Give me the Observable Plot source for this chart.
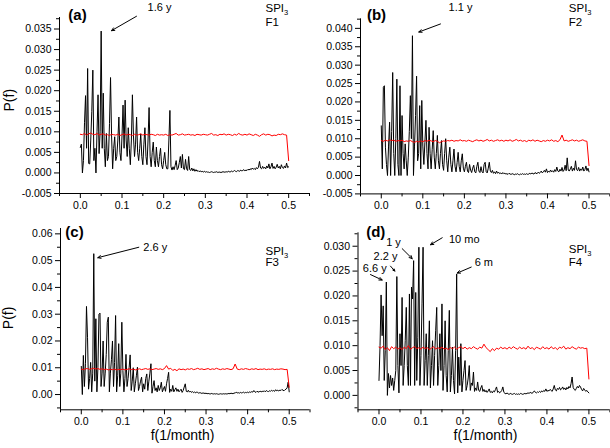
<!DOCTYPE html>
<html><head><meta charset="utf-8">
<script src="https://cdn.jsdelivr.net/npm/d3@7"></script>
<script src="https://cdn.jsdelivr.net/npm/@observablehq/plot@0.6"></script>
<style>
html,body{margin:0;padding:0;background:#fff;}
#chart{position:relative;width:610px;height:448px;overflow:hidden;background:#fff;}
#chart svg{position:absolute;}
</style></head><body><div id="chart"></div>
<script>
// frequency spacing (1/month) of the periodogram and of the red significance curve
const fStep = 0.0025;
const redStep = 0.005;

// ---------- Panel (a) F1 ----------
const powerA = [
0.0062,0.0070,0.0000,0.0030,0.0122,0.0188,0.0060,0.0254,0.0023,0.0022,0.0080,0.0150,0.0250,0.0030,0.0060,0.0000,0.0100,0.0190,0.0047,0.0100,
0.0345,0.0060,0.0194,0.0060,0.0015,0.0096,0.0030,0.0040,0.0120,0.0232,0.0090,0.0010,0.0060,0.0088,0.0030,0.0040,0.0080,0.0136,0.0050,0.0030,
0.0090,0.0165,0.0060,0.0177,0.0080,0.0040,0.0110,0.0060,0.0020,0.0080,0.0190,0.0090,0.0040,0.0070,0.0136,0.0050,0.0030,0.0060,0.0095,0.0040,
0.0020,0.0070,0.0110,0.0040,0.0020,0.0080,0.0159,0.0040,0.0015,0.0050,0.0075,0.0030,0.0015,0.0063,0.0030,0.0015,0.0040,0.0060,0.0020,0.0010,
0.0030,0.0050,0.0020,0.0010,0.0010,0.0080,0.0152,0.0015,0.0007,0.0015,0.0008,0.0018,0.0030,0.0008,0.0012,0.0025,0.0040,0.0012,0.0045,0.0010,
0.0008,0.0033,0.0010,0.0006,0.0040,0.0008,0.0006,0.0012,0.0005,0.0010,0.0004,0.0008,0.0004,0.0006,0.0003,0.0005,0.0003,0.0004,0.0002,0.0004,
0.0002,0.0003,0.0002,0.0002,0.0001,0.0002,0.0003,0.0002,0.0001,0.0002,0.0002,0.0003,0.0001,0.0002,0.0002,0.0001,0.0002,0.0003,0.0002,0.0002,
0.0003,0.0002,0.0004,0.0003,0.0002,0.0005,0.0003,0.0004,0.0006,0.0004,0.0003,0.0006,0.0005,0.0004,0.0007,0.0005,0.0006,0.0008,0.0005,0.0007,
0.0006,0.0009,0.0007,0.0010,0.0008,0.0012,0.0009,0.0011,0.0008,0.0013,0.0010,0.0014,0.0028,0.0012,0.0010,0.0016,0.0011,0.0014,0.0010,0.0017,
0.0012,0.0022,0.0010,0.0015,0.0024,0.0011,0.0016,0.0010,0.0014,0.0021,0.0012,0.0016,0.0010,0.0020,0.0013,0.0011,0.0017,0.0012,0.0024,0.0013,
0.0015];
const redA = [
0.0094,0.0093,0.0096,0.0092,0.0095,0.0097,0.0094,0.0093,0.0096,0.0092,0.0094,0.0095,0.0092,0.0093,0.0091,0.0094,0.0093,0.0092,0.0094,0.0091,
0.0093,0.0095,0.0092,0.0094,0.0093,0.0091,0.0094,0.0092,0.0093,0.0095,0.0092,0.0094,0.0093,0.0092,0.0094,0.0093,0.0091,0.0094,0.0092,0.0093,
0.0092,0.0094,0.0091,0.0093,0.0092,0.0094,0.0096,0.0092,0.0093,0.0095,0.0092,0.0093,0.0094,0.0092,0.0093,0.0091,0.0094,0.0093,0.0092,0.0094,
0.0093,0.0092,0.0094,0.0096,0.0092,0.0093,0.0091,0.0094,0.0093,0.0095,0.0092,0.0094,0.0093,0.0091,0.0094,0.0092,0.0096,0.0093,0.0092,0.0094,
0.0092,0.0095,0.0093,0.0091,0.0094,0.0092,0.0089,0.0093,0.0095,0.0092,0.0094,0.0093,0.0090,0.0092,0.0091,0.0094,0.0093,0.0095,0.0093,0.0092,
0.0030];
const yDomainA = [-0.005, 0.0378];
const yMajorA = [-0.005, 0, 0.005, 0.010, 0.015, 0.020, 0.025, 0.030, 0.035];
const yMinorA = [-0.0025, 0.0025, 0.0075, 0.0125, 0.0175, 0.0225, 0.0275, 0.0325, 0.0375];
const tagA = [{f: -0.0068, p: 0.0384, text: "(a)"}];
const periodTextA = [{f: 0.190, p: 0.0402, text: "1.6 y"}];
const periodArrowA = [{f1: 0.1348, p1: 0.0381, f2: 0.0748, p2: 0.0346}];
const indexA = [{f: 0.4444, p: 0.0400, text: "SPI", sub: "3"}];
const fieldA = [{f: 0.4444, p: 0.0367, text: "F1"}];

// ---------- Panel (b) F2 ----------
const powerB = [
0.0135,0.0018,0.0240,0.0244,0.0077,0.0030,0.0000,0.0080,0.0145,0.0000,0.0120,0.0280,0.0060,0.0000,0.0100,0.0262,0.0030,0.0000,0.0244,0.0000,
0.0163,0.0060,0.0018,0.0086,0.0040,0.0000,0.0050,0.0120,0.0217,0.0100,0.0380,0.0000,0.0080,0.0163,0.0270,0.0040,0.0060,0.0190,0.0018,0.0204,
0.0080,0.0030,0.0090,0.0150,0.0060,0.0018,0.0131,0.0060,0.0018,0.0070,0.0122,0.0050,0.0018,0.0060,0.0109,0.0040,0.0018,0.0060,0.0095,0.0030,
0.0014,0.0060,0.0100,0.0040,0.0010,0.0050,0.0077,0.0030,0.0010,0.0040,0.0072,0.0025,0.0010,0.0035,0.0063,0.0025,0.0010,0.0040,0.0059,0.0020,
0.0010,0.0025,0.0036,0.0012,0.0008,0.0030,0.0015,0.0008,0.0020,0.0028,0.0010,0.0007,0.0025,0.0036,0.0012,0.0008,0.0024,0.0010,0.0007,0.0030,
0.0036,0.0010,0.0007,0.0020,0.0036,0.0012,0.0008,0.0014,0.0006,0.0010,0.0005,0.0012,0.0006,0.0009,0.0005,0.0007,0.0004,0.0008,0.0005,0.0006,
0.0004,0.0005,0.0003,0.0006,0.0004,0.0003,0.0005,0.0004,0.0002,0.0004,0.0003,0.0005,0.0003,0.0002,0.0004,0.0003,0.0005,0.0003,0.0004,0.0003,
0.0005,0.0003,0.0004,0.0006,0.0004,0.0007,0.0005,0.0004,0.0008,0.0006,0.0005,0.0009,0.0006,0.0008,0.0012,0.0007,0.0010,0.0014,0.0009,0.0018,
0.0008,0.0012,0.0009,0.0015,0.0010,0.0013,0.0009,0.0016,0.0011,0.0023,0.0012,0.0010,0.0017,0.0012,0.0022,0.0011,0.0015,0.0028,0.0013,0.0048,
0.0015,0.0012,0.0018,0.0025,0.0012,0.0020,0.0014,0.0040,0.0016,0.0013,0.0022,0.0012,0.0018,0.0014,0.0023,0.0012,0.0016,0.0026,0.0013,0.0020,
0.0010];
const redB = [
0.0095,0.0093,0.0096,0.0094,0.0097,0.0095,0.0096,0.0093,0.0095,0.0094,0.0096,0.0092,0.0094,0.0093,0.0095,0.0092,0.0090,0.0093,0.0091,0.0094,
0.0092,0.0095,0.0093,0.0096,0.0094,0.0092,0.0095,0.0093,0.0089,0.0092,0.0094,0.0093,0.0095,0.0094,0.0096,0.0093,0.0095,0.0094,0.0097,0.0094,
0.0095,0.0093,0.0096,0.0094,0.0092,0.0095,0.0097,0.0094,0.0096,0.0093,0.0095,0.0098,0.0094,0.0096,0.0093,0.0095,0.0097,0.0094,0.0096,0.0093,
0.0096,0.0094,0.0097,0.0093,0.0095,0.0098,0.0094,0.0096,0.0093,0.0095,0.0092,0.0096,0.0094,0.0097,0.0093,0.0096,0.0094,0.0092,0.0095,0.0093,
0.0096,0.0094,0.0097,0.0093,0.0095,0.0092,0.0097,0.0110,0.0094,0.0096,0.0093,0.0095,0.0097,0.0094,0.0096,0.0093,0.0095,0.0097,0.0094,0.0093,
0.0027];
const yDomainB = [-0.005, 0.0426];
const yMajorB = [-0.005, 0, 0.005, 0.010, 0.015, 0.020, 0.025, 0.030, 0.035, 0.040];
const yMinorB = [-0.0025, 0.0025, 0.0075, 0.0125, 0.0175, 0.0225, 0.0275, 0.0325, 0.0375, 0.0425];
const tagB = [{f: -0.0115, p: 0.0436, text: "(b)"}];
const periodTextB = [{f: 0.1907, p: 0.0457, text: "1.1 y"}];
const periodArrowB = [{f1: 0.1425, p1: 0.0412, f2: 0.0903, p2: 0.0390}];
const indexB = [{f: 0.4513, p: 0.0454, text: "SPI", sub: "3"}];
const fieldB = [{f: 0.4513, p: 0.0417, text: "F2"}];

// ---------- Panel (c) F3 ----------
const powerC = [
0.0105,0.0000,0.0146,0.0030,0.0115,0.0329,0.0214,0.0020,0.0060,0.0120,0.0010,0.0080,0.0526,0.0050,0.0283,0.0010,0.0100,0.0300,0.0304,0.0030,
0.0080,0.0200,0.0030,0.0080,0.0150,0.0270,0.0289,0.0010,0.0080,0.0130,0.0200,0.0030,0.0120,0.0295,0.0010,0.0070,0.0190,0.0030,0.0080,0.0270,
0.0090,0.0010,0.0060,0.0150,0.0030,0.0060,0.0100,0.0148,0.0015,0.0050,0.0100,0.0010,0.0040,0.0070,0.0102,0.0015,0.0030,0.0050,0.0065,0.0010,
0.0040,0.0020,0.0060,0.0077,0.0015,0.0050,0.0080,0.0115,0.0005,0.0030,0.0052,0.0015,0.0025,0.0010,0.0034,0.0015,0.0025,0.0046,0.0010,0.0020,
0.0030,0.0012,0.0040,0.0060,0.0083,0.0008,0.0020,0.0012,0.0034,0.0010,0.0018,0.0025,0.0012,0.0020,0.0010,0.0015,0.0020,0.0008,0.0015,0.0028,
0.0040,0.0012,0.0010,0.0016,0.0009,0.0013,0.0008,0.0011,0.0007,0.0010,0.0006,0.0009,0.0008,0.0005,0.0007,0.0006,0.0004,0.0006,0.0005,0.0004,
0.0005,0.0003,0.0004,0.0003,0.0002,0.0004,0.0003,0.0002,0.0003,0.0002,0.0003,0.0002,0.0001,0.0002,0.0003,0.0002,0.0002,0.0003,0.0002,0.0003,
0.0002,0.0003,0.0004,0.0003,0.0005,0.0004,0.0003,0.0006,0.0005,0.0009,0.0006,0.0007,0.0005,0.0008,0.0006,0.0007,0.0009,0.0006,0.0008,0.0007,
0.0009,0.0007,0.0010,0.0008,0.0011,0.0009,0.0015,0.0010,0.0008,0.0012,0.0010,0.0009,0.0013,0.0010,0.0012,0.0011,0.0014,0.0010,0.0015,0.0012,
0.0011,0.0014,0.0012,0.0016,0.0013,0.0015,0.0012,0.0018,0.0014,0.0016,0.0013,0.0017,0.0015,0.0019,0.0016,0.0014,0.0018,0.0020,0.0025,0.0046,
0.0010];
const redC = [
0.0095,0.0093,0.0096,0.0097,0.0094,0.0096,0.0098,0.0095,0.0097,0.0094,0.0096,0.0093,0.0095,0.0092,0.0094,0.0093,0.0095,0.0092,0.0094,0.0093,
0.0095,0.0092,0.0094,0.0096,0.0093,0.0095,0.0092,0.0094,0.0096,0.0093,0.0095,0.0097,0.0094,0.0096,0.0093,0.0095,0.0097,0.0094,0.0096,0.0093,
0.0097,0.0108,0.0095,0.0098,0.0090,0.0094,0.0089,0.0096,0.0093,0.0095,0.0092,0.0096,0.0094,0.0097,0.0093,0.0095,0.0098,0.0094,0.0096,0.0093,
0.0095,0.0097,0.0093,0.0096,0.0094,0.0098,0.0095,0.0093,0.0096,0.0094,0.0097,0.0095,0.0093,0.0096,0.0114,0.0095,0.0093,0.0096,0.0094,0.0097,
0.0095,0.0093,0.0096,0.0094,0.0097,0.0093,0.0095,0.0094,0.0096,0.0093,0.0095,0.0094,0.0096,0.0093,0.0095,0.0094,0.0096,0.0095,0.0093,0.0094,
0.0027];
const yDomainC = [-0.0057, 0.062];
const yMajorC = [0, 0.01, 0.02, 0.03, 0.04, 0.05, 0.06];
const yMinorC = [-0.005, 0.005, 0.015, 0.025, 0.035, 0.045, 0.055];
const tagC = [{f: -0.0163, p: 0.0608, text: "(c)"}];
const periodTextC = [{f: 0.1778, p: 0.0550, text: "2.6 y"}];
const periodArrowC = [{f1: 0.1383, p1: 0.0550, f2: 0.0397, p2: 0.0511}];
const indexC = [{f: 0.443, p: 0.0534, text: "SPI", sub: "3"}];
const fieldC = [{f: 0.443, p: 0.0493, text: "F3"}];

// ---------- Panel (d) F4 ----------
const powerD = [
0.0030,0.0100,0.0202,0.0120,0.0180,0.0030,0.0090,0.0228,0.0000,0.0044,0.0015,0.0040,0.0020,0.0035,0.0010,0.0030,0.0050,0.0239,0.0060,0.0005,
0.0124,0.0060,0.0197,0.0020,0.0060,0.0110,0.0177,0.0060,0.0020,0.0204,0.0020,0.0218,0.0194,0.0271,0.0020,0.0207,0.0030,0.0117,0.0298,0.0020,
0.0080,0.0184,0.0298,0.0020,0.0070,0.0124,0.0020,0.0080,0.0150,0.0015,0.0060,0.0110,0.0020,0.0080,0.0130,0.0177,0.0020,0.0060,0.0124,0.0050,
0.0184,0.0010,0.0060,0.0150,0.0040,0.0007,0.0090,0.0171,0.0007,0.0040,0.0097,0.0030,0.0003,0.0090,0.0244,0.0005,0.0077,0.0020,0.0104,0.0007,
0.0030,0.0050,0.0070,0.0010,0.0020,0.0035,0.0060,0.0010,0.0025,0.0020,0.0047,0.0008,0.0015,0.0010,0.0027,0.0010,0.0008,0.0015,0.0020,0.0008,
0.0012,0.0007,0.0010,0.0006,0.0009,0.0013,0.0006,0.0008,0.0005,0.0009,0.0007,0.0012,0.0017,0.0006,0.0008,0.0005,0.0007,0.0010,0.0017,0.0006,
0.0004,0.0003,0.0005,0.0003,0.0002,0.0004,0.0003,0.0002,0.0003,0.0004,0.0002,0.0003,0.0002,0.0003,0.0002,0.0004,0.0003,0.0002,0.0003,0.0004,
0.0003,0.0004,0.0005,0.0004,0.0006,0.0005,0.0004,0.0007,0.0009,0.0006,0.0005,0.0007,0.0006,0.0008,0.0006,0.0009,0.0007,0.0010,0.0008,0.0013,
0.0008,0.0010,0.0009,0.0012,0.0010,0.0008,0.0013,0.0020,0.0011,0.0009,0.0014,0.0012,0.0016,0.0011,0.0013,0.0017,0.0012,0.0015,0.0011,0.0016,
0.0013,0.0018,0.0015,0.0024,0.0037,0.0016,0.0012,0.0010,0.0014,0.0018,0.0015,0.0020,0.0017,0.0012,0.0009,0.0014,0.0011,0.0008,0.0010,0.0007,
0.0005];
const redD = [
0.0097,0.0095,0.0099,0.0092,0.0096,0.0090,0.0098,0.0094,0.0097,0.0093,0.0096,0.0092,0.0097,0.0094,0.0100,0.0093,0.0096,0.0098,0.0094,0.0096,
0.0093,0.0097,0.0094,0.0096,0.0092,0.0095,0.0098,0.0093,0.0096,0.0094,0.0097,0.0093,0.0095,0.0092,0.0096,0.0094,0.0097,0.0093,0.0096,0.0098,
0.0094,0.0097,0.0093,0.0096,0.0094,0.0098,0.0095,0.0093,0.0097,0.0095,0.0103,0.0096,0.0092,0.0088,0.0094,0.0090,0.0095,0.0093,0.0097,0.0094,
0.0096,0.0093,0.0097,0.0094,0.0098,0.0095,0.0093,0.0097,0.0094,0.0096,0.0093,0.0099,0.0094,0.0096,0.0092,0.0097,0.0095,0.0093,0.0098,0.0094,
0.0096,0.0093,0.0098,0.0094,0.0096,0.0092,0.0097,0.0095,0.0099,0.0093,0.0096,0.0094,0.0098,0.0095,0.0093,0.0097,0.0095,0.0096,0.0094,0.0095,
0.0033];
const yDomainD = [-0.0029, 0.0327];
const yMajorD = [0, 0.005, 0.010, 0.015, 0.020, 0.025, 0.030];
const yMinorD = [-0.0025, 0.0025, 0.0075, 0.0125, 0.0175, 0.0225, 0.0275, 0.0325];
const tagD = [{f: -0.0078, p: 0.0329, text: "(d)"}];
const periodTextD = [
  {f: 0.203, p: 0.0314, text: "10 mo"},
  {f: 0.0346, p: 0.0308, text: "1 y"},
  {f: 0.0155, p: 0.0280, text: "2.2 y"},
  {f: -0.0102, p: 0.0255, text: "6.6 y"},
  {f: 0.2497, p: 0.0268, text: "6 m"}
];
const periodArrowD = [
  {f1: 0.1506, p1: 0.0317, f2: 0.1227, p2: 0.0303},
  {f1: 0.0553, p1: 0.0295, f2: 0.0791, p2: 0.0275},
  {f1: 0.0274, p1: 0.0260, f2: 0.0377, p2: 0.0250},
  {f1: -0.0202, p1: 0.0243, f2: 0.0076, p2: 0.0232},
  {f1: 0.2197, p1: 0.0258, f2: 0.1863, p2: 0.0246}
];
const indexD = [{f: 0.452, p: 0.0294, text: "SPI", sub: "3"}];
const fieldD = [{f: 0.452, p: 0.0267, text: "F4"}];

// shared axis
const xDomain = [-0.05, 0.55];
const xMajor = [0, 0.1, 0.2, 0.3, 0.4, 0.5];
const xMinor = [-0.05, 0.05, 0.15, 0.25, 0.35, 0.45, 0.55];
const yTitle = ["P(f)"];
const xTitle = ["f(1/month)"];

const FONT = "'Liberation Sans', Arial, Helvetica, sans-serif";
const toSeries = (values, step) => values.map((p, i) => ({f: i * step, p}));

function drawPanel(o) {
  const marks = [
    Plot.line(toSeries(o.power, fStep), {x: "f", y: "p", stroke: "black", strokeWidth: 1}),
    Plot.line(toSeries(o.red, redStep), {x: "f", y: "p", stroke: "#ff0000", strokeWidth: 1}),
    Plot.ruleX([xDomain[0]], {stroke: "black", strokeWidth: 1}),
    Plot.ruleY([o.yDomain[0]], {stroke: "black", strokeWidth: 1}),
    Plot.axisY({ticks: o.yMajor, tickSize: 5, tickPadding: 3, tickFormat: d => d.toFixed(o.dec), label: null, fontSize: 10.5}),
    Plot.axisY({ticks: o.yMinor, tickSize: 3, tickFormat: () => "", label: null}),
    Plot.axisX({ticks: xMajor, tickSize: 5, tickPadding: 3, tickFormat: d => d.toFixed(1), label: null, fontSize: 10.5}),
    Plot.axisX({ticks: xMinor, tickSize: 3, tickFormat: () => "", label: null}),
    Plot.arrow(o.arrows, {x1: "f1", y1: "p1", x2: "f2", y2: "p2", stroke: "black", strokeWidth: 1, headLength: 5, headAngle: 50}),
    Plot.text(o.periods, {x: "f", y: "p", text: "text", fontSize: 11, fill: "black"}),
    Plot.text(o.tag, {x: "f", y: "p", text: "text", fontSize: 15, fontWeight: "bold", fill: "black"}),
    Plot.text(o.index, {x: "f", y: "p", text: "text", textAnchor: "start", fontSize: 11.5, fill: "black"}),
    Plot.text(o.index, {x: "f", y: "p", text: "sub", textAnchor: "start", fontSize: 7.5, dx: 18.5, dy: 4, fill: "black"}),
    Plot.text(o.field, {x: "f", y: "p", text: "text", textAnchor: "start", fontSize: 11.5, fill: "black"})
  ];
  if (o.yTitle) marks.push(Plot.text(yTitle, {text: d => d, frameAnchor: "left", rotate: -90, dx: o.yTitle[0], dy: o.yTitle[1], fontSize: 14, fill: "black"}));
  if (o.xTitle) marks.push(Plot.text(xTitle, {text: d => d, frameAnchor: "bottom", dx: o.xTitle[0], dy: o.xTitle[1], fontSize: 14, fill: "black"}));
  const svg = Plot.plot({
    width: o.box.w, height: o.box.h,
    marginLeft: o.box.ml, marginRight: o.box.mr, marginTop: o.box.mt, marginBottom: o.box.mb,
    x: {domain: xDomain, label: null},
    y: {domain: o.yDomain, label: null},
    style: {background: "none", overflow: "visible", fontFamily: FONT, fontSize: "10.5px", color: "black", maxWidth: "none"},
    marks
  });
  svg.style.left = o.box.left + "px";
  svg.style.top = o.box.top + "px";
  document.getElementById("chart").appendChild(svg);
}

drawPanel({power: powerA, red: redA, yDomain: yDomainA, yMajor: yMajorA, yMinor: yMinorA, dec: 3,
  tag: tagA, periods: periodTextA, arrows: periodArrowA, index: indexA, field: fieldA,
  yTitle: [-50, 6],
  box: {left: 0, top: 0, w: 310, h: 215, ml: 59, mr: 1, mt: 17, mb: 22}});
drawPanel({power: powerB, red: redB, yDomain: yDomainB, yMajor: yMajorB, yMinor: yMinorB, dec: 3,
  tag: tagB, periods: periodTextB, arrows: periodArrowB, index: indexB, field: fieldB,
  box: {left: 300, top: 0, w: 310, h: 215, ml: 60, mr: 0.7, mt: 18.3, mb: 21.6}});
drawPanel({power: powerC, red: redC, yDomain: yDomainC, yMajor: yMajorC, yMinor: yMinorC, dec: 2,
  tag: tagC, periods: periodTextC, arrows: periodArrowC, index: indexC, field: fieldC,
  yTitle: [-51.5, 10], xTitle: [-2.7, 30],
  box: {left: 0, top: 200, w: 310, h: 248, ml: 60, mr: 0.5, mt: 28, mb: 38.7}});
drawPanel({power: powerD, red: redD, yDomain: yDomainD, yMajor: yMajorD, yMinor: yMinorD, dec: 3,
  tag: tagD, periods: periodTextD, arrows: periodArrowD, index: indexD, field: fieldD,
  xTitle: [1.5, 30],
  box: {left: 300, top: 200, w: 310, h: 248, ml: 57.5, mr: 0.6, mt: 32.3, mb: 38.7}});
</script>
</body></html>
